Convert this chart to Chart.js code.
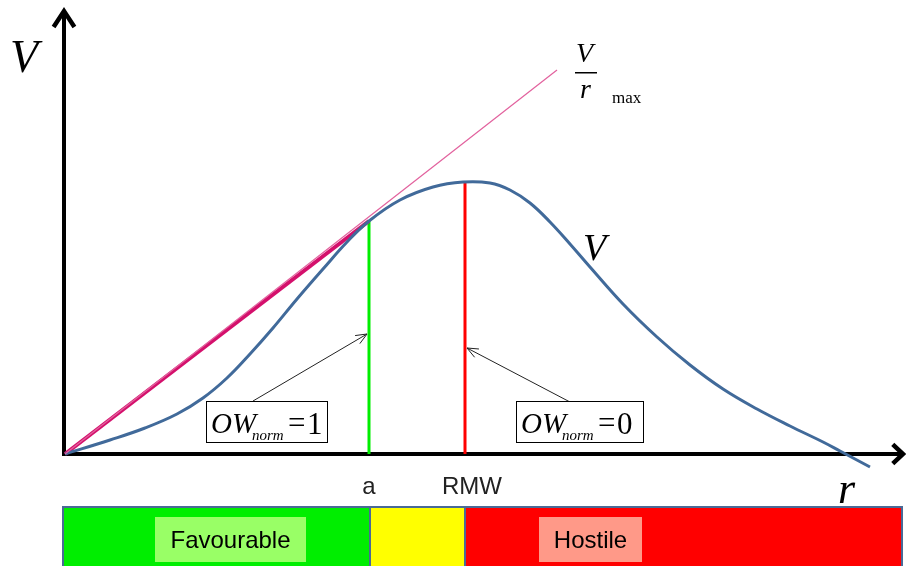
<!DOCTYPE html>
<html><head><meta charset="utf-8">
<script src="https://cdn.jsdelivr.net/npm/chart.js@4/dist/chart.umd.min.js"></script>
<style>html,body{margin:0;padding:0;background:#fff;overflow:hidden}canvas{display:block}</style>
</head><body>
<canvas id="c" width="906" height="566"></canvas>
<script>
// ---- data (arbitrary units) ----
const curveR = [0, 4.5, 8, 11.2, 13.8, 16.2, 18.5, 20.8, 23.2, 25.8, 28.2, 30.4, 33.5, 36.8, 39.8, 42.5, 44.5, 46.5, 48.5, 50.5, 52.5, 55.8, 59.2, 62.5, 65.8, 69.2, 72.5, 75.8, 77.5, 80.5];
const curveV = [0, 1.4, 2.6, 4.0, 5.6, 7.6, 10.0, 12.6, 15.5, 18.5, 21.2, 23.3, 25.4, 26.7, 27.2, 27.1, 26.4, 25.1, 23.2, 21.0, 18.7, 15.0, 11.7, 8.9, 6.5, 4.5, 2.8, 1.2, 0.3, -1.3];
const tangentR = [0, 30.4];
const tangentV = [0, 23.3];
const tangentExtR = [0, 49.2];
const tangentExtV = [0, 38.4];
const aR = 30.4, aV = 23.3;
const rmwR = 40.0, rmwV = 27.2;
const axisMaxR = 84, axisMaxV = 44;
const tickLabels = ['a', 'RMW'];
const zoneLabels = ['Favourable', '', 'Hostile'];
const zoneColors = ['#00ee00', '#ffff00', '#ff0000'];
const zoneLabelBg = ['#99ff66', null, '#ff9988'];

const pts = (xs, ys) => xs.map((x, i) => ({x, y: ys[i]}));

function chevron(ctx, x, y, ang, len, spread) {
  ctx.beginPath();
  ctx.moveTo(x + len * Math.cos(ang + Math.PI - spread), y + len * Math.sin(ang + Math.PI - spread));
  ctx.lineTo(x, y);
  ctx.lineTo(x + len * Math.cos(ang + Math.PI + spread), y + len * Math.sin(ang + Math.PI + spread));
  ctx.stroke();
}

const axesPlugin = {
  id: 'axesPlugin',
  beforeDatasetsDraw(chart) {
    const ctx = chart.ctx, xs = chart.scales.x, ys = chart.scales.y;
    const x0 = xs.getPixelForValue(0), y0 = ys.getPixelForValue(0);
    const xe = xs.getPixelForValue(axisMaxR), ye = ys.getPixelForValue(axisMaxV);
    ctx.save();
    ctx.strokeStyle = '#000'; ctx.lineWidth = 4; ctx.lineCap = 'butt';
    ctx.beginPath(); ctx.moveTo(x0 - 1, y0 + 2); ctx.lineTo(x0 - 1, ye - 2); ctx.stroke();
    ctx.beginPath(); ctx.moveTo(x0 - 3, y0); ctx.lineTo(xe - 2, y0); ctx.stroke();
    ctx.lineJoin = 'miter';
    ctx.lineWidth = 4.5;
    chevron(ctx, x0 - 1, ye - 3, -Math.PI / 2, 19, 0.58);
    chevron(ctx, xe - 2, y0, 0, 14, 0.75);
    ctx.restore();
  },
  afterDraw(chart) {
    const ctx = chart.ctx, xs = chart.scales.x, ys = chart.scales.y;
    const xa = xs.getPixelForValue(aR), xr = xs.getPixelForValue(rmwR);
    ctx.save();
    // axis titles
    ctx.fillStyle = '#000';
    ctx.textBaseline = 'alphabetic';
    ctx.textAlign = 'left';
    ctx.font = 'italic 46px "Liberation Serif"';
    ctx.fillText('V', 10, 72);
    ctx.font = 'italic 44px "Liberation Serif"';
    ctx.fillText('r', 838, 503);
    ctx.font = 'italic 38px "Liberation Serif"';
    ctx.fillText('V', 583, 260);
    // V / r max
    ctx.font = 'italic 28px "Liberation Serif"';
    ctx.fillText('V', 576, 62);
    ctx.fillRect(575, 72, 22, 1.5);
    ctx.fillText('r', 580, 98);
    ctx.font = '17px "Liberation Serif"';
    ctx.fillText('max', 612, 103);
    // tick labels
    ctx.font = '24px "Liberation Sans"';
    ctx.textAlign = 'center';
    ctx.fillStyle = '#222';
    ctx.fillText(tickLabels[0], xa, 494);
    ctx.fillText(tickLabels[1], xr + 7, 494);

    // annotation boxes
    function owBox(bx, by, bw, bh, val) {
      ctx.fillStyle = '#fff';
      ctx.fillRect(bx, by, bw, bh);
      ctx.strokeStyle = '#000'; ctx.lineWidth = 1;
      ctx.strokeRect(bx + 0.5, by + 0.5, bw, bh);
      ctx.fillStyle = '#000';
      ctx.textAlign = 'left';
      ctx.font = 'italic 29px "Liberation Serif"';
      ctx.fillText('OW', bx + 5, by + 32);
      ctx.font = 'italic 15px "Liberation Serif"';
      ctx.fillText('norm', bx + 46, by + 39);
      ctx.font = '31px "Liberation Serif"';
      ctx.fillText('=', bx + 82, by + 32);
      ctx.fillText(val, bx + 101, by + 33);
    }
    function arrow(x1, y1, x2, y2) {
      ctx.strokeStyle = '#222'; ctx.lineWidth = 1;
      ctx.beginPath(); ctx.moveTo(x1, y1); ctx.lineTo(x2, y2); ctx.stroke();
      chevron(ctx, x2, y2, Math.atan2(y2 - y1, x2 - x1), 12, 0.4);
    }
    arrow(253, 401, xa - 2, ys.getPixelForValue(12));
    arrow(570, 402, xr + 2, ys.getPixelForValue(10.6));
    owBox(206, 401, 121, 41, '1');
    owBox(516, 401, 127, 41, '0');

    // zone bar
    const top = 507, bottom = 570;
    const left = xs.getPixelForValue(-0.2), right = xs.getPixelForValue(83.7);
    const edges = [left, xa + 1, xr, right];
    for (let i = 0; i < 3; i++) {
      ctx.fillStyle = zoneColors[i];
      ctx.fillRect(edges[i], top, edges[i + 1] - edges[i], bottom - top);
    }
    ctx.strokeStyle = '#4a6a96'; ctx.lineWidth = 2;
    ctx.strokeRect(left, top, right - left, bottom - top);
    ctx.beginPath();
    ctx.moveTo(edges[1], top); ctx.lineTo(edges[1], bottom);
    ctx.moveTo(edges[2], top); ctx.lineTo(edges[2], bottom);
    ctx.stroke();
    // zone labels
    const lbl = [[155, 151], null, [539, 103]];
    ctx.font = '24px "Liberation Sans Narrow", "Liberation Sans"';
    ctx.textAlign = 'center';
    for (let i = 0; i < 3; i++) {
      if (!zoneLabels[i]) continue;
      ctx.fillStyle = zoneLabelBg[i];
      ctx.fillRect(lbl[i][0], 517, lbl[i][1], 45);
      ctx.fillStyle = '#000';
      ctx.fillText(zoneLabels[i], lbl[i][0] + lbl[i][1] / 2, 548);
    }
    ctx.restore();
  }
};

new Chart(document.getElementById('c'), {
  type: 'scatter',
  data: {
    datasets: [
      {data: pts(tangentExtR, tangentExtV), showLine: true, borderColor: '#e2629e', borderWidth: 1.2, pointRadius: 0, clip: false},
      {data: pts(curveR, curveV), showLine: true, borderColor: '#416a9a', borderWidth: 3, pointRadius: 0, tension: 0.4, clip: false},
      {data: pts(tangentR, tangentV), showLine: true, borderColor: '#d4106c', borderWidth: 4, pointRadius: 0, clip: false},
      {data: [{x: aR, y: 0}, {x: aR, y: aV}], showLine: true, borderColor: '#00ee00', borderWidth: 3, pointRadius: 0, clip: false},
      {data: [{x: rmwR, y: 0}, {x: rmwR, y: rmwV}], showLine: true, borderColor: '#ff0000', borderWidth: 3, pointRadius: 0, clip: false}
    ]
  },
  options: {
    responsive: false,
    animation: false,
    devicePixelRatio: 1,
    layout: {padding: {left: 65, right: 1, top: 14, bottom: 112}},
    plugins: {legend: {display: false}, tooltip: {enabled: false}},
    scales: {
      x: {type: 'linear', min: 0, max: axisMaxR, display: false},
      y: {type: 'linear', min: 0, max: axisMaxV, display: false}
    }
  },
  plugins: [axesPlugin]
});
</script>
</body></html>
